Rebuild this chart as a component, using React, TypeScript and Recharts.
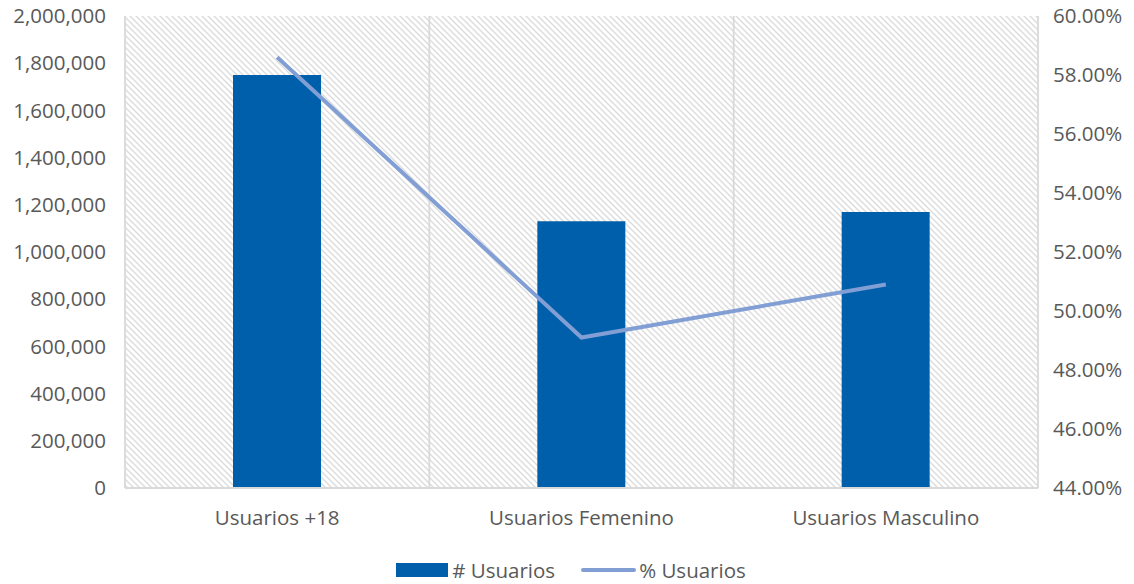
import {
  Bar,
  CartesianGrid,
  ComposedChart,
  Legend,
  Line,
  XAxis,
  YAxis,
} from "recharts";

const categories = ["Usuarios +18", "Usuarios Femenino", "Usuarios Masculino"];
const usuarios = [1750000, 1130000, 1170000];
const pctUsuarios = [0.586, 0.491, 0.509];
const leftTicks = [0, 200000, 400000, 600000, 800000, 1000000, 1200000, 1400000, 1600000, 1800000, 2000000];
const rightTicks = [0.44, 0.46, 0.48, 0.5, 0.52, 0.54, 0.56, 0.58, 0.6];

const data = categories.map((name, i) => ({
  name,
  usuarios: usuarios[i],
  pct: pctUsuarios[i],
}));

const FONT = "'Open Sans', sans-serif";
const FS = 20.5;
const TEXT = "#595959";
const BAR = "#005FAA";
const LINE = "#819FD4";
const GRID = "#D9D9D9";

function LegendContent() {
  return (
    <div
      style={{
        display: "flex",
        justifyContent: "center",
        alignItems: "center",
        fontFamily: FONT,
        fontSize: FS,
        color: TEXT,
        height: 56,
        paddingTop: 28,
        paddingLeft: 8,
        boxSizing: "border-box",
      }}
    >
      <span style={{ display: "inline-block", width: 52, height: 14, background: BAR, marginRight: 4 }} />
      <span style={{ marginRight: 26 }}># Usuarios</span>
      <span style={{ display: "inline-block", width: 55, height: 4, background: LINE, borderRadius: 2, marginRight: 3 }} />
      <span>% Usuarios</span>
    </div>
  );
}

export default function App() {
  return (
    <div style={{ position: "absolute", left: 0, top: 0, background: "#fff" }}>
      <ComposedChart
        width={1134}
        height={584}
        data={data}
        margin={{ top: 16, right: 0, bottom: 0, left: 0 }}
      >
        <defs>
          <pattern id="hatch" width="6" height="6" patternUnits="userSpaceOnUse">
            <rect width="6" height="6" fill="#ffffff" />
            <path d="M0,0 L6,6 M-1,5 L1,7 M5,-1 L7,1" stroke="#DCDCDC" strokeWidth="1.4" />
          </pattern>
        </defs>
        <CartesianGrid
          fill="url(#hatch)"
          fillOpacity={1}
          stroke={GRID}
          strokeWidth={1.8}
          syncWithTicks
          verticalCoordinatesGenerator={({ offset }: any) => {
            const step = offset.width / categories.length;
            return categories.map((_, i) => offset.left + step * i).concat(offset.left + offset.width);
          }}
        />
        <XAxis
          dataKey="name"
          height={40}
          axisLine={{ stroke: GRID, strokeWidth: 1.8 }}
          tickLine={false}
          tick={{ fontSize: FS, fill: TEXT, fontFamily: FONT }}
          tickMargin={16}
        />
        <YAxis
          yAxisId="left"
          width={125}
          domain={[0, 2000000]}
          ticks={leftTicks}
          axisLine={false}
          tickLine={false}
          tickMargin={13}
          tickFormatter={(v: number) => v.toLocaleString("en-US")}
          tick={{ fontSize: FS, fill: TEXT, fontFamily: FONT }}
        />
        <YAxis
          yAxisId="right"
          orientation="right"
          width={96}
          domain={[0.44, 0.6]}
          ticks={rightTicks}
          axisLine={false}
          tickLine={false}
          tickMargin={9}
          tickFormatter={(v: number) => (v * 100).toFixed(2) + "%"}
          tick={{ fontSize: FS, fill: TEXT, fontFamily: FONT }}
        />
        <Legend verticalAlign="bottom" height={56} content={<LegendContent />} />
        <Bar yAxisId="left" dataKey="usuarios" name="# Usuarios" fill={BAR} barSize={88} isAnimationActive={false} />
        <Line
          yAxisId="right"
          dataKey="pct"
          name="% Usuarios"
          stroke={LINE}
          strokeWidth={4}
          dot={false}
          isAnimationActive={false}
        />
      </ComposedChart>
    </div>
  );
}
